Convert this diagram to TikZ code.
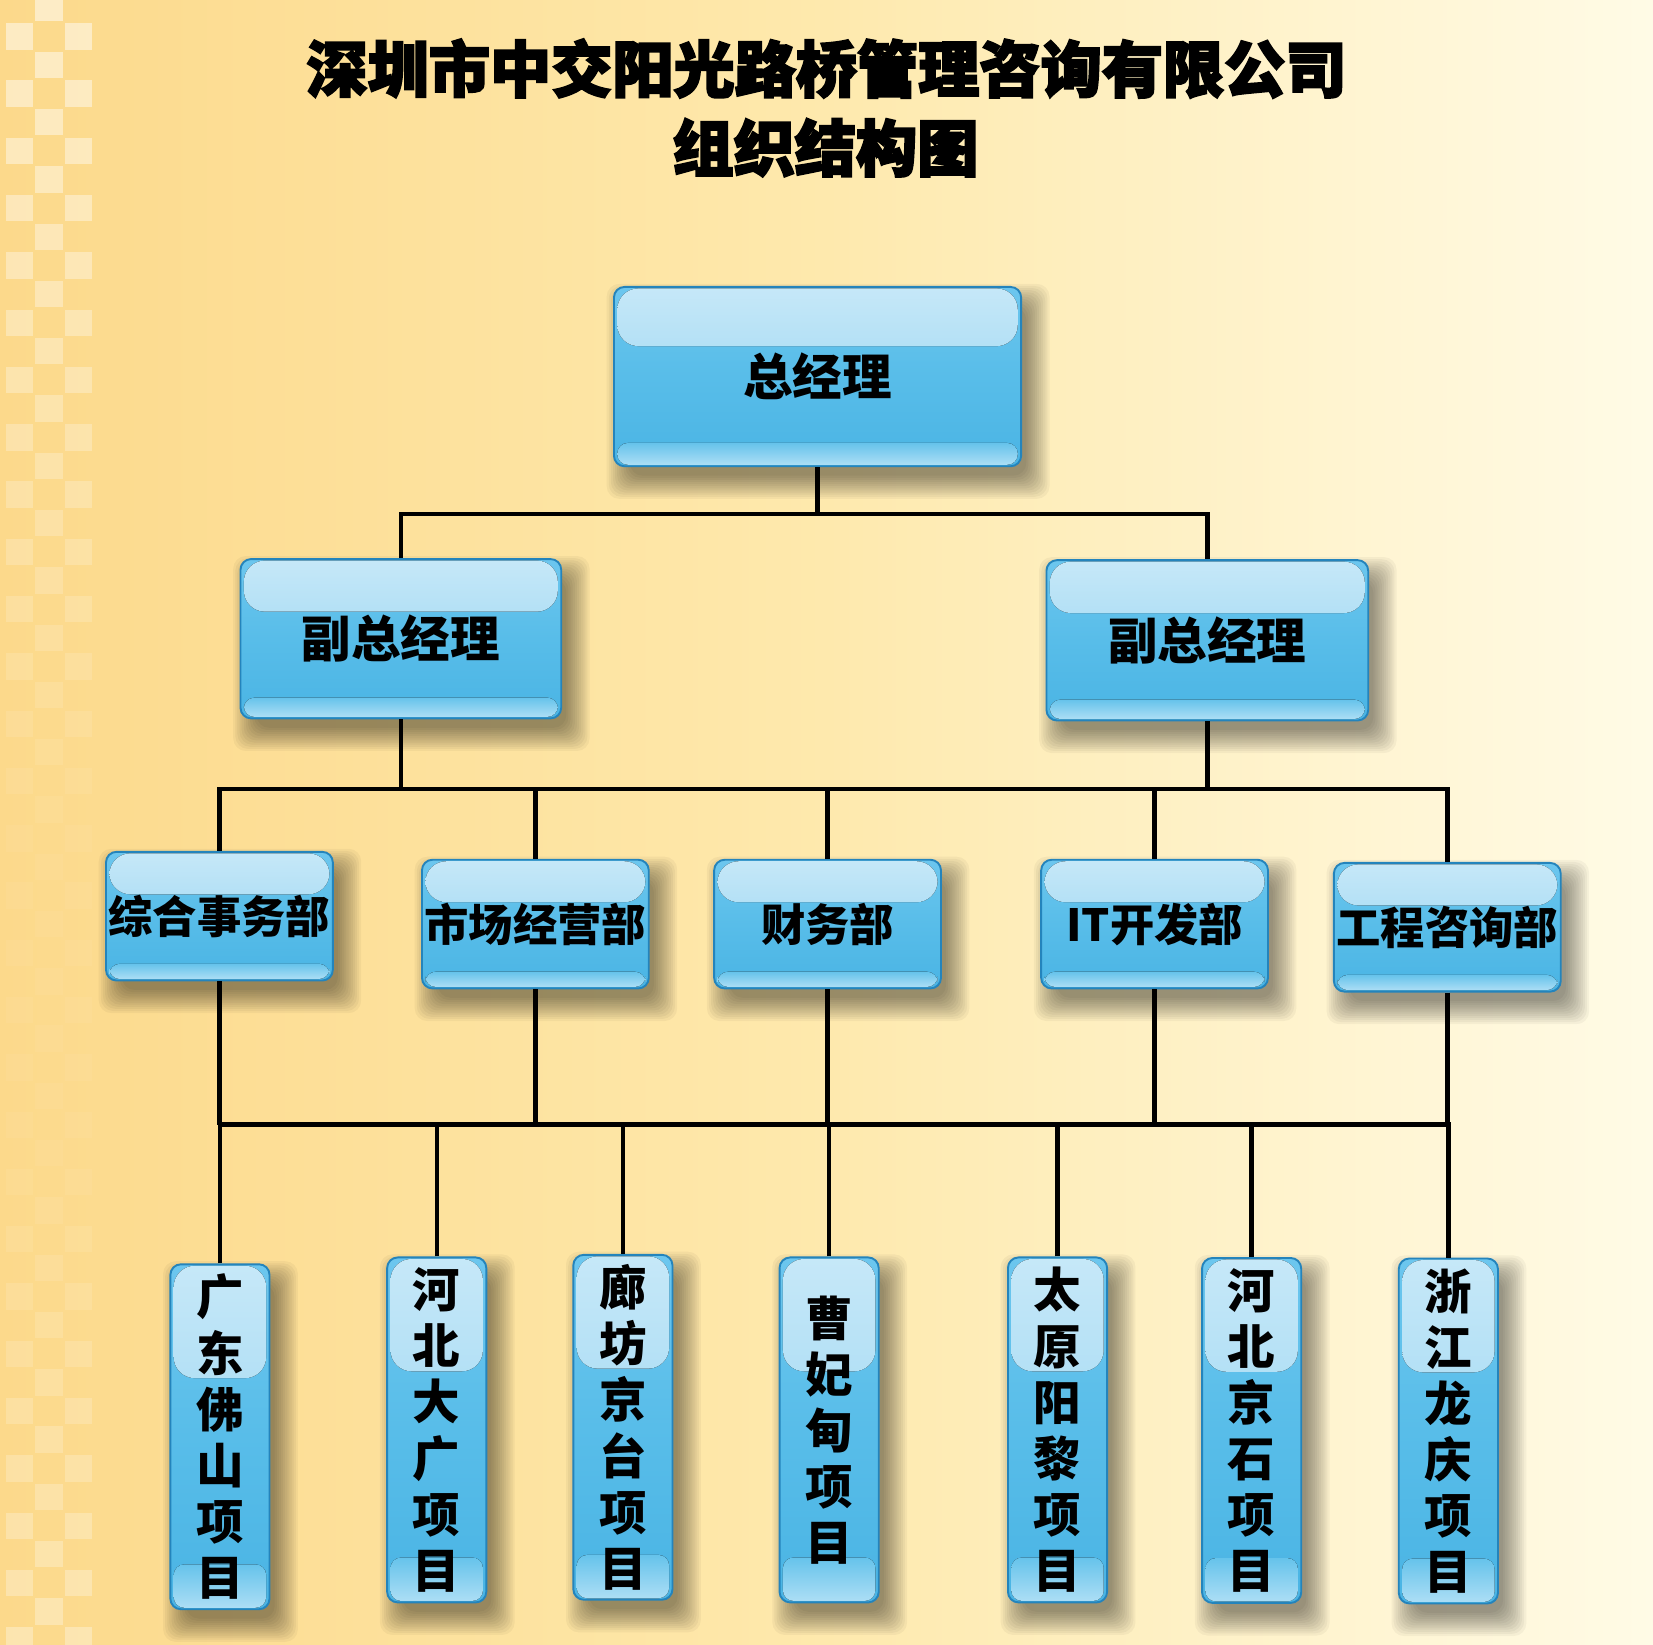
\documentclass[tikz,border=0pt]{standalone}
\usepackage{fontspec}
\newfontfamily\cjk{Noto Sans CJK SC}
\newfontfamily\cjkheavy[BoldFeatures={FakeBold=3.2}]{Noto Sans CJK SC}
\usetikzlibrary{calc}
\pgfdeclarelayer{bglayer}
\pgfdeclarelayer{shadowlayer}
\pgfsetlayers{bglayer,shadowlayer,main}
\definecolor{bgL}{HTML}{FCD98B}
\definecolor{bgM}{HTML}{FEE9AD}
\definecolor{bgR}{HTML}{FFFBE6}
\definecolor{boxborder}{HTML}{2484BC}
\definecolor{bodyT}{HTML}{6CC6EE}
\definecolor{bodyM}{HTML}{58BDE9}
\definecolor{bodyB}{HTML}{4AB4E4}
\definecolor{glossT}{HTML}{C6E8F8}
\definecolor{glossB}{HTML}{8FD1F0}
\definecolor{bandT}{HTML}{66C3EB}
\definecolor{bandB}{HTML}{ACDEF5}
\pgfdeclareverticalshading{boxbody}{100bp}{color(0bp)=(bodyB); color(25bp)=(bodyB); color(50bp)=(bodyM); color(75bp)=(bodyT); color(100bp)=(bodyT)}
\tikzset{
  gbox/.style={draw=boxborder, line width=0.9pt, rounded corners=5pt, shading=boxbody,
    inner sep=0pt, text=black,
    path picture={
      \fill[top color=glossT, bottom color=glossB, rounded corners=10pt]
        ($(path picture bounding box.north west)+(1.6pt,-0.7pt)$) rectangle
        ($(path picture bounding box.north east)!0.33!(path picture bounding box.south east)+(-1.6pt,0)$);
      \fill[top color=bandT, bottom color=bandB, rounded corners=5pt]
        ($(path picture bounding box.south west)!0.13!(path picture bounding box.north west)+(1.6pt,0)$) rectangle
        ($(path picture bounding box.south east)+(-1.6pt,0.7pt)$);
    }},
  topbox/.style={gbox, font=\cjk\bfseries\fontsize{23.5}{28}\selectfont},
  deptbox/.style={gbox, minimum width=107.5pt, minimum height=61pt, font=\cjk\bfseries\fontsize{21}{25}\selectfont},
  projbox/.style={gbox, minimum width=47pt, minimum height=163.5pt, align=center, font=\cjk\bfseries\fontsize{22.5}{26.6}\selectfont},
  titletext/.style={font=\cjkheavy\bfseries\fontsize{29}{35}\selectfont, text=black, inner sep=0pt},
  conn/.style={line width=2.1pt, black},
  shadowpiece/.style={black, opacity=0.038, rounded corners=6pt}
}
\begin{document}
\begin{tikzpicture}[x=0.5pt, y=-0.5pt]
\useasboundingbox (0,0) rectangle (1567,1559);
\begin{pgfonlayer}{bglayer}
  \fill[left color=bgL, right color=bgR, middle color=bgM] (0,0) rectangle (1567,1559);
  \foreach \k in {0,...,29}{
    \pgfmathsetmacro\ya{22+54.3*\k}
    \pgfmathsetmacro\yb{-5.3+54.3*\k}
    \pgfmathsetmacro\oa{max(0.05,0.5-0.5*\ya/850,0.05+0.28*(\ya-1100)/460)}
    \pgfmathsetmacro\ob{max(0.05,0.5-0.5*\yb/850,0.05+0.28*(\yb-1100)/460)}
    \fill[white, opacity=\oa] (6,\ya) rectangle (31,\ya+25);
    \fill[white, opacity=\oa] (62,\ya) rectangle (87,\ya+25);
    \fill[white, opacity=\ob] (33,\yb) rectangle (60,\yb+25);
  }
\end{pgfonlayer}

% title
\node[titletext] (title1) at (783.5,65) {深圳市中交阳光路桥管理咨询有限公司};
\node[titletext] (title2) at (782.5,140) {组织结构图};

% boxes
\node[topbox, minimum width=193pt, minimum height=85pt] (gm) at (775,357) {总经理};
\node[topbox, minimum width=152pt, minimum height=75.5pt] (vpl) at (380,605.5) {副总经理};
\node[topbox, minimum width=152.5pt, minimum height=76pt] (vpr) at (1144.5,607) {副总经理};

\node[deptbox] (d1) at (208,868.5) {综合事务部};
\node[deptbox] (d2) at (507.5,876) {市场经营部};
\node[deptbox] (d3) at (784.5,876) {财务部};
\node[deptbox] (d4) at (1094.5,876) {IT开发部};
\node[deptbox] (d5) at (1372,879) {工程咨询部};

\node[projbox] (p1) at (208.5,1362) {广\\东\\佛\\山\\项\\目};
\node[projbox] (p2) at (414,1355.5) {河\\北\\大\\广\\项\\目};
\node[projbox] (p3) at (590.5,1353) {廊\\坊\\京\\台\\项\\目};
\node[projbox] (p4) at (786,1355.5) {曹\\妃\\甸\\项\\目};
\node[projbox] (p5) at (1002.5,1355.5) {太\\原\\阳\\黎\\项\\目};
\node[projbox] (p6) at (1186.5,1356) {河\\北\\京\\石\\项\\目};
\node[projbox] (p7) at (1373,1356.5) {浙\\江\\龙\\庆\\项\\目};

% shadows
\begin{pgfonlayer}{shadowlayer}
  \foreach \n in {gm,vpl,vpr,d1,d2,d3,d4,d5,p1,p2,p3,p4,p5,p6,p7}{
    \foreach \e in {0,...,11}{
      \fill[shadowpiece]
        ($(\n.north west)+(5pt+3pt-\e*1pt,-7pt-3pt+\e*1pt)$) rectangle
        ($(\n.south east)+(5pt-3pt+\e*1pt,-7pt+3pt-\e*1pt)$);
    }
  }
\end{pgfonlayer}

% junction levels
\coordinate (j1) at (0,487);
\coordinate (j2) at (0,748);
\coordinate (j3) at (0,1066);

% connectors level 1
\draw[conn] (gm.south) -- (gm.south |- j1);
\draw[conn] (vpl.north) -- (vpl.north |- j1) -| (vpr.north);

% connectors level 2
\draw[conn] (vpl.south) -- (vpl.south |- j2);
\draw[conn] (vpr.south) -- (vpr.south |- j2);
\draw[conn] (d1.north) -- (d1.north |- j2) -| (d5.north);
\draw[conn] (d2.north) -- (d2.north |- j2);
\draw[conn] (d3.north) -- (d3.north |- j2);
\draw[conn] (d4.north) -- (d4.north |- j2);

% connectors level 3
\draw[conn] (d1.south) -- (d1.south |- j3);
\draw[conn] (d2.south) -- (d2.south |- j3);
\draw[conn] (d3.south) -- (d3.south |- j3);
\draw[conn] (d4.south) -- (d4.south |- j3);
\draw[conn] (d5.south) -- (d5.south |- j3);
\draw[conn] (p1.north) -- (p1.north |- j3) -| (p7.north);
\draw[conn] (p2.north) -- (p2.north |- j3);
\draw[conn] (p3.north) -- (p3.north |- j3);
\draw[conn] (p4.north) -- (p4.north |- j3);
\draw[conn] (p5.north) -- (p5.north |- j3);
\draw[conn] (p6.north) -- (p6.north |- j3);
\end{tikzpicture}
\end{document}
